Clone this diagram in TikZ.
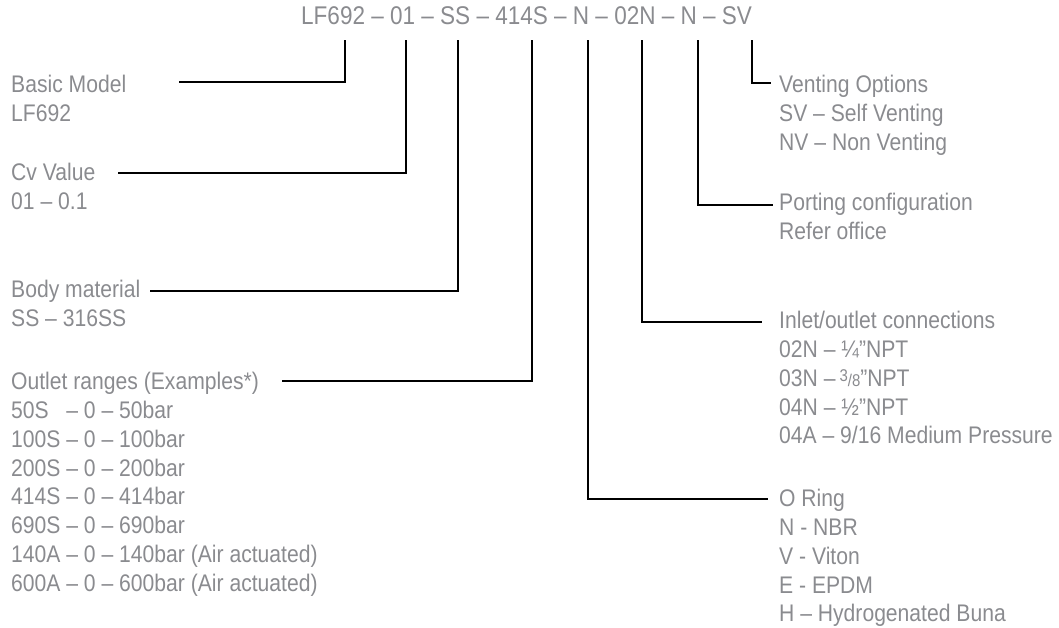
\documentclass[tikz,border=0pt]{standalone}
\usepackage{fontspec}
\setmainfont[FakeStretch=0.88]{Liberation Sans}
\definecolor{txtgrey}{RGB}{138,139,143}
\newcommand{\lblfont}{\fontsize{24}{28.8}\selectfont}
\newcommand{\codefont}{\fontsize{25.6}{30}\selectfont}
\newcommand{\threeeighths}{{\fontsize{17}{17}\selectfont\raisebox{5pt}{3}/8}}
\begin{document}
\begin{tikzpicture}[x=1pt,y=-1pt,
  lbl/.style={anchor=north west, inner sep=0pt, align=left, text=txtgrey, font=\lblfont},
  codetext/.style={anchor=base west, inner sep=0pt, text=txtgrey, font=\codefont},
  conn/.style={draw=black, line width=2.5pt, line join=miter}]
\useasboundingbox (0,0) rectangle (1059,627);
\node[codetext] (code) at (301,24) {LF692 – 01 – SS – 414S – N – 02N – N – SV};
% tick tops
\coordinate (t1) at (345,40);
\coordinate (t2) at (406,40);
\coordinate (t3) at (458,40);
\coordinate (t4) at (532,40);
\coordinate (t5) at (588,40);
\coordinate (t6) at (642,40);
\coordinate (t7) at (698,40);
\coordinate (t8) at (752,40);
% free ends
\coordinate (e1) at (179,82);
\coordinate (e2) at (118,173);
\coordinate (e3) at (150,291);
\coordinate (e4) at (282,381);
\coordinate (e5) at (768,499);
\coordinate (e6) at (762,322);
\coordinate (e7) at (773,205);
\coordinate (e8) at (771,83);
% labels left
\node[lbl] (basic) at (11,72.4) {\strut Basic Model\\LF692};
\node[lbl] (cv) at (11,160.4) {\strut Cv Value\\01 – 0.1};
\node[lbl] (body) at (11,277.4) {\strut Body material\\SS – 316SS};
\node[lbl] (outlet) at (11,369.4) {\strut Outlet ranges (Examples*)\\
50S\hphantom{0} – 0 – 50bar\\
100S – 0 – 100bar\\
200S – 0 – 200bar\\
414S – 0 – 414bar\\
690S – 0 – 690bar\\
140A – 0 – 140bar (Air actuated)\\
600A – 0 – 600bar (Air actuated)};
% labels right
\node[lbl] (vent) at (779,72.4) {\strut Venting Options\\SV – Self Venting\\NV – Non Venting};
\node[lbl] (port) at (779,190.4) {\strut Porting configuration\\Refer office};
\node[lbl] (inlet) at (779,308.4) {\strut Inlet/outlet connections\\
02N – ¼"NPT\\
03N –\,\threeeighths"NPT\\
04N – ½"NPT\\
04A – 9/16 Medium Pressure};
\node[lbl] (oring) at (779,486.4) {\strut O Ring\\N - NBR\\V - Viton\\E - EPDM\\H – Hydrogenated Buna};
% connectors
\draw[conn] (t1) |- (e1);
\draw[conn] (t2) |- (e2);
\draw[conn] (t3) |- (e3);
\draw[conn] (t4) |- (e4);
\draw[conn] (t5) |- (e5);
\draw[conn] (t6) |- (e6);
\draw[conn] (t7) |- (e7);
\draw[conn] (t8) |- (e8);
\end{tikzpicture}
\end{document}
